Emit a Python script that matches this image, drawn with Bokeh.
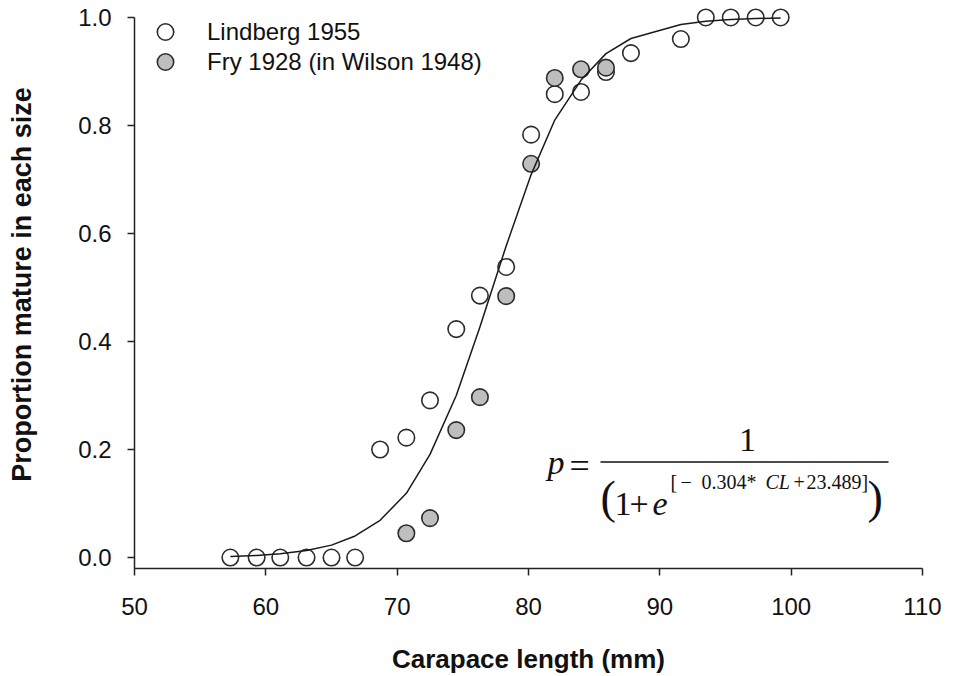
from bokeh.plotting import figure
from bokeh.models import (ColumnDataSource, Legend, LegendItem, Label, Arrow,
                          FixedTicker, PrintfTickFormatter, Range1d)
from bokeh.embed import file_html
from bokeh.resources import INLINE

# ---------------- data ----------------
lind_cl = [57.3, 59.3, 61.1, 63.1, 65.0, 66.8, 68.7, 70.7, 72.5, 74.5, 76.3,
           78.3, 80.2, 82.0, 84.0, 85.9, 87.8, 91.6, 93.5, 95.4, 97.3, 99.2]
lind_p = [0.0, 0.0, 0.0, 0.0, 0.0, 0.0, 0.200, 0.222, 0.291, 0.423, 0.485,
          0.538, 0.783, 0.858, 0.862, 0.899, 0.934, 0.960, 1.0, 1.0, 1.0, 1.0]

fry_cl = [70.7, 72.5, 74.5, 76.3, 78.3, 80.2, 82.0, 84.0, 85.9]
fry_p = [0.045, 0.073, 0.236, 0.297, 0.484, 0.729, 0.888, 0.904, 0.907]

# fitted curve as drawn (polyline through the Lindberg sizes)
curve_cl = lind_cl
curve_p = [0.002, 0.004, 0.007, 0.013, 0.023, 0.040, 0.069, 0.119, 0.191, 0.300,
           0.427, 0.577, 0.709, 0.810, 0.884, 0.933, 0.961, 0.987, 0.993, 0.996,
           0.998, 0.999]

x_ticks = [50, 60, 70, 80, 90, 100, 110]
y_ticks = [0.0, 0.2, 0.4, 0.6, 0.8, 1.0]

series_names = ["Lindberg 1955", "Fry 1928 (in Wilson 1948)"]

# ---------------- figure ----------------
W, H = 953, 676
LEFT, RIGHT, TOP, BOTTOM = 134, 31, 0, 106
X0, X1 = 50, 110
PX_PER_UNIT = 542.0
Y0 = -11 / PX_PER_UNIT
Y1 = 1.0 + 17 / PX_PER_UNIT

p = figure(width=W, height=H, output_backend="svg", toolbar_location=None,
           x_range=Range1d(X0, X1), y_range=Range1d(Y0, Y1),
           min_border_left=LEFT, min_border_right=RIGHT,
           min_border_top=TOP, min_border_bottom=BOTTOM)
p.outline_line_color = None
p.xgrid.visible = False
p.ygrid.visible = False
p.background_fill_color = "white"
p.border_fill_color = "white"

FW = W - LEFT - RIGHT
FH = H - TOP - BOTTOM


def px_x(px):
    return X0 + (px - LEFT) / FW * (X1 - X0)


def px_y(py):
    return Y1 - (py - TOP) / FH * (Y1 - Y0)


sans = "Liberation Sans"
serif = "Liberation Serif"

for ax in (p.xaxis[0], p.yaxis[0]):
    ax.axis_line_color = "#222222"
    ax.axis_line_width = 1.5
    ax.major_tick_line_color = "#222222"
    ax.major_tick_line_width = 1.5
    ax.major_tick_out = 7
    ax.major_tick_in = 0
    ax.minor_tick_out = 0
    ax.minor_tick_in = 0
    ax.major_label_text_font = sans
    ax.major_label_text_font_size = "24px"
    ax.major_label_text_color = "#111111"
    ax.axis_label_text_font = sans
    ax.axis_label_text_font_size = "26px"
    ax.axis_label_text_font_style = "bold"
    ax.axis_label_text_color = "#111111"

p.yaxis.axis_label_text_font_size = "27px"
p.xaxis.ticker = FixedTicker(ticks=x_ticks)
p.yaxis.ticker = FixedTicker(ticks=y_ticks)
p.yaxis.bounds = (Y0, 1.0)
p.yaxis.formatter = PrintfTickFormatter(format="%.1f")
p.xaxis.axis_label = "Carapace length (mm)"
p.yaxis.axis_label = "Proportion mature in each size"
p.xaxis.major_label_standoff = 22
p.yaxis.major_label_standoff = 16
p.xaxis.axis_label_standoff = 26
p.yaxis.axis_label_standoff = 38

src_l = ColumnDataSource(dict(x=lind_cl, y=lind_p))
src_f = ColumnDataSource(dict(x=fry_cl, y=fry_p))
src_c = ColumnDataSource(dict(x=curve_cl, y=curve_p))

r_l = p.scatter("x", "y", source=src_l, size=16.5, marker="circle",
                fill_color="white", line_color="#2b2b2b", line_width=1.6)
r_f = p.scatter("x", "y", source=src_f, size=16.5, marker="circle",
                fill_color="#BEBEBE", line_color="#2b2b2b", line_width=1.6)
p.line("x", "y", source=src_c, line_color="#1a1a1a", line_width=1.5)


def make_legend(name, renderer, row_center_py):
    row_h = 41
    bottom_py = row_center_py + row_h / 2
    lg = Legend(items=[LegendItem(label=name, renderers=[renderer])],
                location=(0, int(round(FH - bottom_py + TOP))),
                orientation="vertical")
    lg.background_fill_alpha = 0
    lg.border_line_color = None
    lg.padding = 0
    lg.margin = 0
    lg.glyph_width = 62
    lg.glyph_height = row_h
    lg.label_height = row_h
    lg.spacing = 0
    lg.label_standoff = 11
    lg.label_text_font = sans
    lg.label_text_font_size = "24px"
    lg.label_text_color = "#111111"
    p.add_layout(lg)


make_legend(series_names[0], r_l, 33)
make_legend(series_names[1], r_f, 63)

# ---------------- formula annotation ----------------


def put(text, px, py, size, italic=False, align="left"):
    shift = 0.33 * size
    p.add_layout(Label(x=px_x(px), y=px_y(py - shift), text=text,
                       text_font=serif, text_font_size=f"{size}px",
                       text_font_style="italic" if italic else "normal",
                       text_align=align, text_baseline="alphabetic",
                       text_color="#111111"))


put("p", 547, 475, 34, italic=True)
put("=", 569, 479, 36)
put("1", 747, 452, 34, align="center")
put("(", 600, 514, 46)
put("1", 614, 516, 34)
put("+", 629, 516, 34)
put("e", 652, 516, 34, italic=True)
put("[", 670, 490, 20)
put("\u2212", 680, 490, 20)
put("0.304*", 701, 490, 20)
put("CL", 765, 490, 20, italic=True)
put("+", 793, 490, 20)
put("23.489]", 806, 490, 20)
put(")", 867, 514, 46)

p.add_layout(Arrow(end=None, start=None,
                   x_start=px_x(600), y_start=px_y(463),
                   x_end=px_x(888), y_end=px_y(463),
                   line_color="#111111", line_width=1.5))

open("out.html", "w").write(file_html(p, INLINE))
